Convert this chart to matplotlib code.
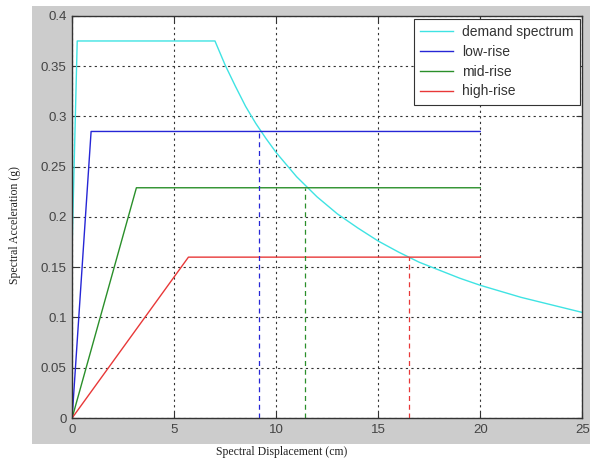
import matplotlib.pyplot as plt
from matplotlib.patches import Rectangle

# demand spectrum (ADRS), read as points
demand_sd = [0, 0.25, 7.0, 7.5, 8, 8.5, 9, 9.5, 10, 11, 12, 13, 14, 15, 16, 17,
             18, 19, 20, 21, 22, 23, 24, 25]
demand_sa = [0.17, 0.375, 0.375, 0.351, 0.33, 0.31, 0.293, 0.278, 0.264, 0.24,
             0.22, 0.203, 0.189, 0.176, 0.165, 0.155, 0.147, 0.139, 0.132,
             0.126, 0.120, 0.115, 0.110, 0.105]

# bilinear capacity curves
low_sd = [0, 0.93, 20]
low_sa = [0, 0.285, 0.285]
mid_sd = [0, 3.15, 20]
mid_sa = [0, 0.229, 0.229]
high_sd = [0, 5.7, 20]
high_sa = [0, 0.160, 0.160]

# performance points (demand / capacity intersections)
perf_sd = [9.17, 11.4, 16.5]
perf_sa = [0.285, 0.229, 0.160]

labels = ["demand spectrum", "low-rise", "mid-rise", "high-rise"]
colors = ["#3fe3e3", "#2626d6", "#2a8f2a", "#e83838"]

plt.rcParams["font.family"] = ["Liberation Sans", "DejaVu Sans"]

fig = plt.figure(figsize=(5.96, 4.66), dpi=100)
fig.patch.set_facecolor("white")
# grey panel behind the axes
fig.add_artist(Rectangle((0.054, 0.047), 0.936, 0.940, transform=fig.transFigure,
                         facecolor="#cccccc", edgecolor="none", zorder=-10))

ax = fig.add_axes([0.121, 0.103, 0.856, 0.863])
ax.set_facecolor("white")

ax.plot(demand_sd, demand_sa, color=colors[0], lw=1.0, label=labels[0])
ax.plot(low_sd, low_sa, color=colors[1], lw=1.0, label=labels[1])
ax.plot(mid_sd, mid_sa, color=colors[2], lw=1.0, label=labels[2])
ax.plot(high_sd, high_sa, color=colors[3], lw=1.0, label=labels[3])

for x, y, c in zip(perf_sd, perf_sa, colors[1:]):
    ax.plot([x, x], [0, y], color=c, lw=0.9, ls=(0, (4, 3)))

ax.set_xlim(0, 25)
ax.set_ylim(0, 0.4)
ax.set_xticks([0, 5, 10, 15, 20, 25])
ax.set_xticklabels(["0", "5", "10", "15", "20", "25"])
ax.set_yticks([0, 0.05, 0.1, 0.15, 0.2, 0.25, 0.3, 0.35, 0.4])
ax.set_yticklabels(["0", "0.05", "0.1", "0.15", "0.2", "0.25", "0.3", "0.35", "0.4"])
ax.grid(True, color="#333333", ls=(0, (2, 3)), lw=0.8)
ax.tick_params(direction="in", top=True, right=True, length=4, width=0.8,
               labelsize=9.5, labelcolor="#444444", color="#333333", pad=4)
for s in ax.spines.values():
    s.set_color("#333333")
    s.set_linewidth(1.0)

leg = ax.legend(loc="upper right", fontsize=10, handlelength=2.4,
                handletextpad=0.6, fancybox=False, framealpha=1,
                borderpad=0.45, labelspacing=0.42, borderaxespad=0.2)
leg.get_frame().set_edgecolor("#333333")
leg.get_frame().set_linewidth(0.8)
for t in leg.get_texts():
    t.set_color("#333333")

fig.text(282 / 596, 1 - 452 / 466, "Spectral Displacement (cm)", ha="center",
         va="center", fontsize=8.5, family="Liberation Serif", color="#222222")
fig.text(15 / 596, 1 - 225 / 466, "Spectral Acceleration (g)", ha="center",
         va="center", rotation=90, fontsize=8.5, family="Liberation Serif",
         color="#222222")

fig.savefig("out.png", dpi=100, facecolor=fig.get_facecolor())
